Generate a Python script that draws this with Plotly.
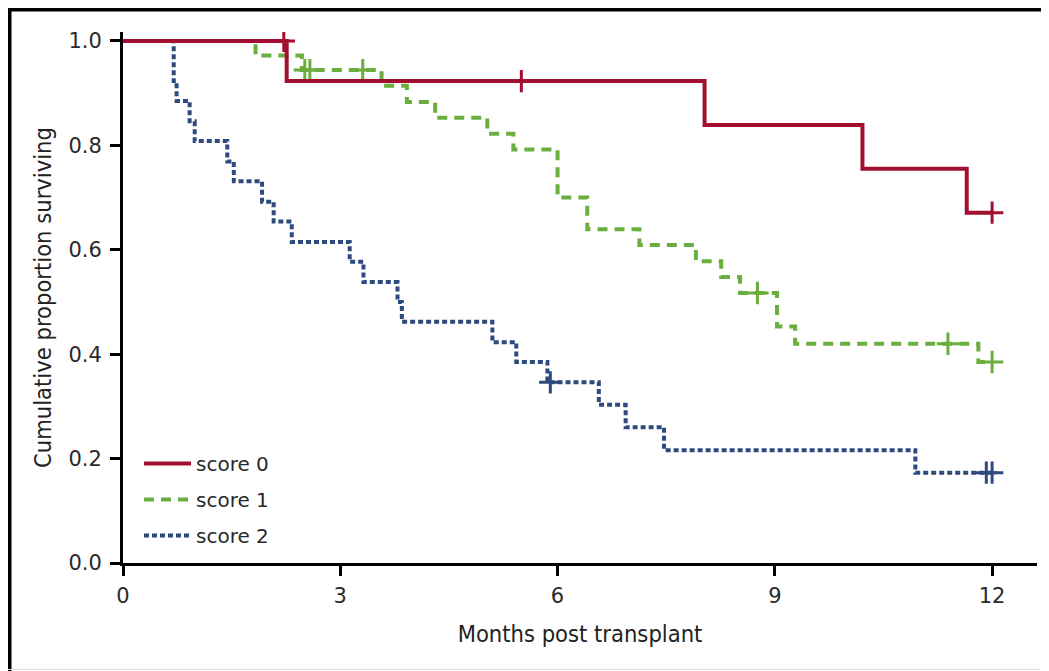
import plotly.graph_objects as go

# ---------------- data ----------------
score0_time = [0, 2.26, 8.03, 10.21, 11.65, 12.0]
score0_surv = [1.0, 0.923, 0.839, 0.755, 0.671, 0.671]
score0_cens_time = [2.22, 5.50, 12.0]
score0_cens_surv = [1.0, 0.923, 0.671]

score1_time = [0, 1.83, 2.47, 3.57, 3.92, 4.31, 5.03, 5.39, 6.00, 6.41,
               7.13, 7.91, 8.26, 8.52, 9.03, 9.28, 11.81, 12.0]
score1_surv = [1.0, 0.972, 0.944, 0.914, 0.883, 0.853, 0.822, 0.792, 0.700, 0.639,
               0.609, 0.578, 0.548, 0.517, 0.453, 0.420, 0.385, 0.385]
score1_cens_time = [2.51, 2.58, 3.31, 8.76, 11.39, 12.0]
score1_cens_surv = [0.944, 0.944, 0.944, 0.517, 0.420, 0.385]

score2_time = [0, 0.70, 0.74, 0.92, 0.99, 1.44, 1.53, 1.92, 2.08, 2.33,
               3.13, 3.32, 3.79, 3.85, 5.10, 5.43, 5.86, 6.57, 6.94, 7.47,
               10.94, 12.0]
score2_surv = [1.0, 0.923, 0.885, 0.846, 0.808, 0.769, 0.731, 0.692, 0.654, 0.615,
               0.577, 0.538, 0.500, 0.462, 0.423, 0.385, 0.346, 0.303, 0.260, 0.216,
               0.173, 0.173]
score2_cens_time = [5.90, 11.92, 12.0]
score2_cens_surv = [0.346, 0.173, 0.173]

series_names = ["score 0", "score 1", "score 2"]
x_ticks = [0, 3, 6, 9, 12]
y_ticks = [0.0, 0.2, 0.4, 0.6, 0.8, 1.0]
y_tick_labels = ["0.0", "0.2", "0.4", "0.6", "0.8", "1.0"]

# ---------------- styling ----------------
# the page has an 8px body margin, so the figure starts at page pixel (8, 8)
OFF = 8
W, H = 1049 - OFF, 671 - OFF
ML = 123 - OFF
MT = 32 - OFF
MB = H - (563 - OFF)
MR = W - (1037 - OFF)
RED, GREEN, BLUE = "#A3102F", "#6AAE3E", "#2C4A7E"

fig = go.Figure()

series = [
    (score0_time, score0_surv, score0_cens_time, score0_cens_surv, RED, "solid"),
    (score1_time, score1_surv, score1_cens_time, score1_cens_surv, GREEN, "10px,7px"),
    (score2_time, score2_surv, score2_cens_time, score2_cens_surv, BLUE, "5px,3px"),
]

# draw score 2 first so that score 0 lies on top (as in the reference)
for i in [2, 1, 0]:
    t, s, ct, cs, col, dash = series[i]
    fig.add_trace(go.Scatter(
        x=t, y=s, mode="lines", name=series_names[i],
        line=dict(color=col, width=4, dash=dash, shape="hv"),
        legendgroup=str(i), legendrank=i + 1,
    ))
    fig.add_trace(go.Scatter(
        x=ct, y=cs, mode="markers", showlegend=False,
        marker=dict(symbol="cross-thin", size=16, color=col,
                    line=dict(color=col, width=3)),
        legendgroup=str(i), legendrank=i + 1, hoverinfo="skip",
    ))

plot_w = W - ML - MR
plot_h = H - MT - MB


def px_x(page_px):
    return (page_px - OFF - ML) / plot_w


def px_y(page_py):
    return (H - MB - (page_py - OFF)) / plot_h


shapes = [
    dict(type="line", xref="paper", yref="paper",
         x0=px_x(9.5), x1=px_x(9.5), y0=px_y(6), y1=px_y(700),
         line=dict(color="black", width=4)),
    dict(type="line", xref="paper", yref="paper",
         x0=px_x(6), x1=px_x(1060), y0=px_y(9.5), y1=px_y(9.5),
         line=dict(color="black", width=4)),
    dict(type="line", xref="paper", yref="paper",
         x0=px_x(0), x1=px_x(1060), y0=px_y(669.5), y1=px_y(669.5),
         line=dict(color="#dddddd", width=1)),
]

tick_font = dict(family="DejaVu Sans", size=21, color="#2a2a2a")
title_font = dict(family="DejaVu Sans Condensed, sans-serif", size=23.5, color="#222")

fig.update_layout(
    width=W, height=H,
    margin=dict(l=ML, r=MR, t=MT, b=MB, pad=0),
    paper_bgcolor="white", plot_bgcolor="white",
    shapes=shapes,
    showlegend=True,
    legend=dict(
        x=px_x(139), y=px_y(444), xanchor="left", yanchor="top",
        font=dict(family="DejaVu Sans", size=20, color="#2a2a2a"),
        bgcolor="rgba(0,0,0,0)", tracegroupgap=7,
        itemwidth=47, traceorder="grouped",
    ),
    xaxis=dict(
        range=[0, 12.62], tickvals=x_ticks, ticktext=[str(v) for v in x_ticks],
        showgrid=False, zeroline=False, showline=True, linecolor="black", linewidth=3,
        ticks="outside", ticklen=10, tickwidth=3, tickcolor="black",
        tickfont=tick_font, automargin=False, ticklabelstandoff=2,
        title=dict(text="Months post transplant", font=title_font, standoff=19),
    ),
    yaxis=dict(
        range=[0, 1.017], tickvals=y_ticks, ticktext=y_tick_labels,
        showgrid=False, zeroline=False, showline=True, linecolor="black", linewidth=3,
        ticks="outside", ticklen=10, tickwidth=3, tickcolor="black",
        tickfont=tick_font, automargin=False, ticklabelstandoff=4,
        title=dict(text="Cumulative proportion surviving", font=title_font, standoff=11),
    ),
)

fig.write_html("out.html")
